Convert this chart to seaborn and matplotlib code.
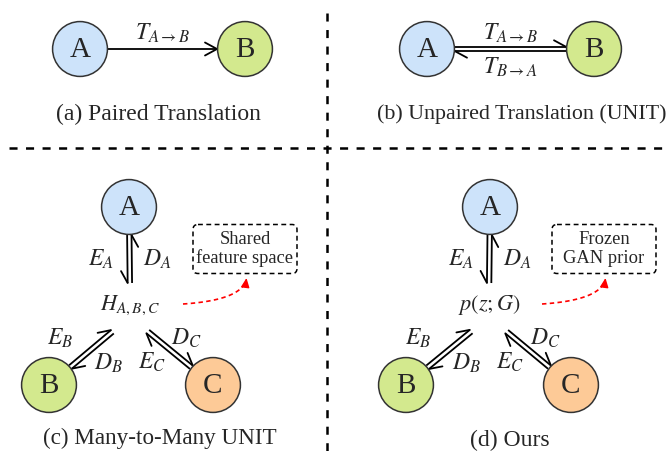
import numpy as np
import pandas as pd
import matplotlib.pyplot as plt
from matplotlib.patches import FancyBboxPatch
import seaborn as sns

# ---- diagram content, pixel coordinates of the 669x451 canvas (y grows downwards) ----
panels = ["a", "a", "b", "b", "c", "c", "c", "d", "d", "d"]
node_names = ["A", "B", "A", "B", "A", "B", "C", "A", "B", "C"]
node_x = [80, 245, 427, 594, 129, 49, 213, 490, 406, 571]
node_y = [49, 49, 49, 49, 207, 385, 385, 207, 385, 385]
node_fill = {"A": "#cde3fa", "B": "#d3e98e", "C": "#fdca97"}

captions = ["(a) Paired Translation", "(b) Unpaired Translation (UNIT)",
            "(c) Many-to-Many UNIT", "(d) Ours"]
caption_x = [158, 522, 160, 510]
caption_y = [114, 114, 438, 440]
caption_size = [17, 15.8, 16.7, 17]

hub_panels = ["c", "d"]
hub_labels = [r"$H_{A,B,C}$", r"$p(z;G)$"]
hub_x = [130, 489]
hub_y = [305, 305]

prior_labels = ["Shared\nfeature space", "Frozen\nGAN prior"]
prior_x = [245, 604]
prior_y = [249, 249]

R = 28  # node radius in px

sns.set_theme(style="white")
plt.rcParams["font.family"] = ["Liberation Serif", "DejaVu Serif"]
plt.rcParams["mathtext.fontset"] = "stix"
plt.rcParams["lines.scale_dashes"] = False

fig = plt.figure(figsize=(6.69, 4.51), dpi=100)
ax = fig.add_axes([0, 0, 1, 1])
ax.set_xlim(0, 669)
ax.set_ylim(451, 0)
ax.axis("off")


def harpoon(p0, p1, side, both=False, lw=1.3):
    p0, p1 = np.asarray(p0, float), np.asarray(p1, float)
    u = (p1 - p0) / np.linalg.norm(p1 - p0)
    n = np.array([-u[1], u[0]])
    ax.plot([p0[0], p1[0]], [p0[1], p1[1]], color="black", lw=lw, solid_capstyle="butt")
    for s in ([1, -1] if both else [side]):
        b = p1 - 12 * u + s * 6.5 * n
        ax.plot([b[0], p1[0]], [b[1], p1[1]], color="black", lw=lw, solid_capstyle="round")


def double_link(pa, pb, sa, sb, side, gap=2.2):
    pa, pb = np.asarray(pa, float), np.asarray(pb, float)
    u = (pb - pa) / np.linalg.norm(pb - pa)
    n = np.array([-u[1], u[0]])
    start, end = pa + sa * u, pb - sb * u
    off = side * gap * n
    harpoon(start + off, end + off, side)
    harpoon(end - off, start - off, side)
    return (start + end) / 2


# separators
ax.plot([327, 327], [13, 451], color="black", lw=1.8, ls=(0, (5.8, 6.1)))
ax.plot([9, 667], [147.5, 147.5], color="black", lw=1.8, ls=(0, (5.8, 6.1)))

# nodes
nodes = pd.DataFrame({"panel": panels, "node": node_names, "x": node_x, "y": node_y})
sns.scatterplot(data=nodes, x="x", y="y", hue="node", palette=node_fill, s=1560,
                edgecolor="#333333", linewidth=1.1, legend=False, ax=ax, zorder=3)
for _, row in nodes.iterrows():
    ax.text(row.x, row.y + 1, row.node, ha="center", va="center", fontsize=21, zorder=4)
pos = {(p, k): (x, y) for p, k, x, y in zip(panels, node_names, node_x, node_y)}

# (a) paired translation
pa, pb = np.array(pos[("a", "A")], float), np.array(pos[("a", "B")], float)
harpoon(pa + [R, 0], pb - [R, 0], 1, both=True)
ax.text((pa[0] + pb[0]) / 2, 33, r"$T_{A\rightarrow B}$", ha="center", va="center", fontsize=17)

# (b) unpaired translation
mid = double_link(pos[("b", "A")], pos[("b", "B")], R, R, -1)
ax.text(mid[0], mid[1] - 16, r"$T_{A\rightarrow B}$", ha="center", va="center", fontsize=17)
ax.text(mid[0], mid[1] + 18, r"$T_{B\rightarrow A}$", ha="center", va="center", fontsize=17)

for x, y, t, fs in zip(caption_x, caption_y, captions, caption_size):
    ax.text(x, y, t, ha="center", va="center", fontsize=fs)

# (c) and (d): shared hub
enc_side = {"A": 1, "B": -1, "C": -1}
enc_off = {"A": (-29, 0), "B": (-31, -11), "C": (-18, 13)}
dec_off = {"A": (28, 0), "B": (17, 14), "C": (17, -11)}
for p, hl, hx, hy, bl, bx, by in zip(hub_panels, hub_labels, hub_x, hub_y,
                                     prior_labels, prior_x, prior_y):
    ax.text(hx, hy, hl, ha="center", va="center", fontsize=16)
    for k in ["A", "B", "C"]:
        if k == "A":
            mid = double_link(pos[(p, k)], (hx, hy - 10), R, 12, enc_side[k])
        else:
            mid = double_link(pos[(p, k)], (hx, hy + 12), R, 23, enc_side[k])
        ax.text(mid[0] + enc_off[k][0], mid[1] + enc_off[k][1], f"$E_{k}$",
                ha="center", va="center", fontsize=17)
        ax.text(mid[0] + dec_off[k][0], mid[1] + dec_off[k][1], f"$D_{k}$",
                ha="center", va="center", fontsize=17)

    box = FancyBboxPatch((bx - 52, by - 24.5), 104, 49, boxstyle="round,pad=0,rounding_size=5",
                         fill=False, ec="black", lw=1.1, ls=(0, (3.5, 2.5)))
    ax.add_patch(box)
    ax.text(bx, by, bl, ha="center", va="center", fontsize=13.3, linespacing=1.1)

    # red dashed curve to the prior box
    p0 = np.array([hx + 53, hy - 1])
    p2 = np.array([bx + 1.5, by + 29])
    p1 = np.array([p2[0] - 3, p0[1] - 4])
    t = np.linspace(0, 0.93, 40)[:, None]
    curve = (1 - t) ** 2 * p0 + 2 * (1 - t) * t * p1 + t ** 2 * p2
    ax.plot(curve[:, 0], curve[:, 1], color="red", lw=1.2, ls=(0, (3.2, 2.4)))
    ax.annotate("", xy=p2, xytext=p2 + (p1 - p2) / np.linalg.norm(p1 - p2) * 6,
                arrowprops=dict(arrowstyle="-|>,head_length=0.55,head_width=0.25",
                                color="red", lw=1.0, shrinkA=0, shrinkB=0, mutation_scale=10))

fig.savefig("out.png", dpi=100)
